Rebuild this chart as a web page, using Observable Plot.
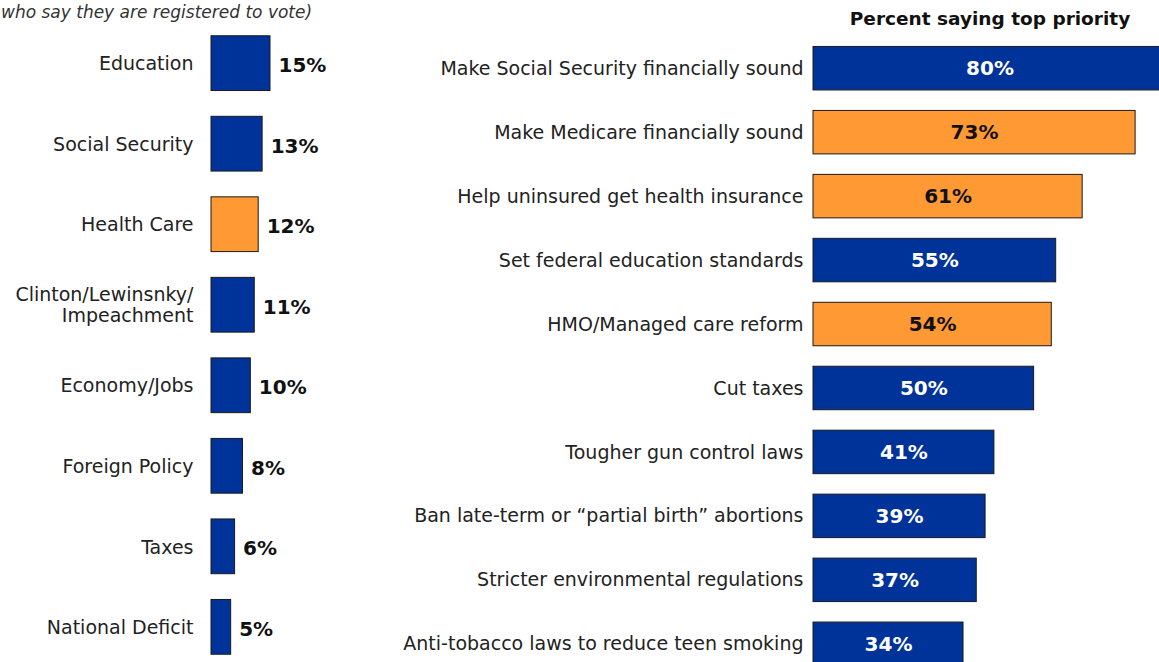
<!DOCTYPE html>
<html>
<head>
<meta charset="utf-8">
<script src="https://cdn.jsdelivr.net/npm/d3@7"></script>
<script src="https://cdn.jsdelivr.net/npm/@observablehq/plot@0.6"></script>
<style>
  html, body { margin: 0; padding: 0; background: #fff; overflow: hidden; }
  #wrap { position: relative; width: 1159px; height: 662px; overflow: hidden; font-family: "DejaVu Sans", Verdana, sans-serif; }
  #sub { position: absolute; left: 1px; top: 1px; font-style: italic; font-size: 17px; color: #333; white-space: nowrap; line-height: 22px; }
  #head { position: absolute; left: 813px; width: 354px; top: 8px; text-align: center; font-weight: bold; font-size: 18.5px; color: #111; white-space: nowrap; }
  #left { position: absolute; left: 0; top: 0; }
  #right { position: absolute; left: 400px; top: 0; }
</style>
</head>
<body>
<div id="wrap">
  <div id="sub">who say they are registered to vote)</div>
  <div id="head">Percent saying top priority</div>
  <div id="left"></div>
  <div id="right"></div>
</div>
<script>
// Most important issue (left panel)
const issues = ["Education", "Social Security", "Health Care", "Clinton/Lewinsnky/\nImpeachment", "Economy/Jobs", "Foreign Policy", "Taxes", "National Deficit"];
const issueShares = [15, 13, 12, 11, 10, 8, 6, 5];
const issueHealth = [false, false, true, false, false, false, false, false];

// Percent saying each item is a top priority (right panel)
const priorities = [
  "Make Social Security financially sound",
  "Make Medicare financially sound",
  "Help uninsured get health insurance",
  "Set federal education standards",
  "HMO/Managed care reform",
  "Cut taxes",
  "Tougher gun control laws",
  "Ban late-term or \u201cpartial birth\u201d abortions",
  "Stricter environmental regulations",
  "Anti-tobacco laws to reduce teen smoking"
];
const priorityShares = [80, 73, 61, 55, 54, 50, 41, 39, 37, 34];
const priorityHealth = [false, true, true, false, true, false, false, false, false, false];

const BLUE = "#003399";
const ORANGE = "#FF9933";
const FONT = "DejaVu Sans, Verdana, sans-serif";

const leftData = issues.map((name, i) => ({name, value: issueShares[i], health: issueHealth[i]}));
const rightData = priorities.map((name, i) => ({name, value: priorityShares[i], health: priorityHealth[i]}));

const leftChart = Plot.plot({
  width: 400,
  height: 662,
  marginLeft: 211,
  marginRight: 0,
  marginTop: 0,
  marginBottom: 0,
  style: {fontFamily: FONT, background: "transparent", overflow: "hidden"},
  x: {domain: [0, 15], range: [211, 270], axis: null},
  y: {domain: issues, range: [10, 680], padding: 0.32, round: false, label: null},
  marks: [
    Plot.axisY({tickSize: 0, tickPadding: 18, fontSize: 19, fill: "#222", label: null, lineHeight: 1.1}),
    Plot.barX(leftData, {x: "value", y: "name", fill: d => d.health ? ORANGE : BLUE, stroke: "#1a1a1a", strokeWidth: 1}),
    Plot.text(leftData, {x: "value", y: "name", text: d => d.value + "%", textAnchor: "start", dx: 8, dy: 2, fontSize: 20, fontWeight: "bold", fill: "#111"})
  ]
});
document.getElementById("left").appendChild(leftChart);

const rightChart = Plot.plot({
  width: 759,
  height: 662,
  marginLeft: 413,
  marginRight: 0,
  marginTop: 0,
  marginBottom: 0,
  style: {fontFamily: FONT, background: "transparent", overflow: "hidden"},
  x: {domain: [0, 80], range: [413, 766], axis: null},
  y: {domain: priorities, range: [26, 686], padding: 0.32, round: false, label: null},
  marks: [
    Plot.axisY({tickSize: 0, tickPadding: 10, fontSize: 19, fill: "#222", label: null}),
    Plot.barX(rightData, {x: "value", y: "name", fill: d => d.health ? ORANGE : BLUE, stroke: "#1a1a1a", strokeWidth: 1}),
    Plot.text(rightData, {x: d => d.value / 2, y: "name", text: d => d.value + "%", textAnchor: "middle", dy: 0, fontSize: 20, fontWeight: "bold", fill: d => d.health ? "#111" : "#fff"})
  ]
});
document.getElementById("right").appendChild(rightChart);
</script>
</body>
</html>
